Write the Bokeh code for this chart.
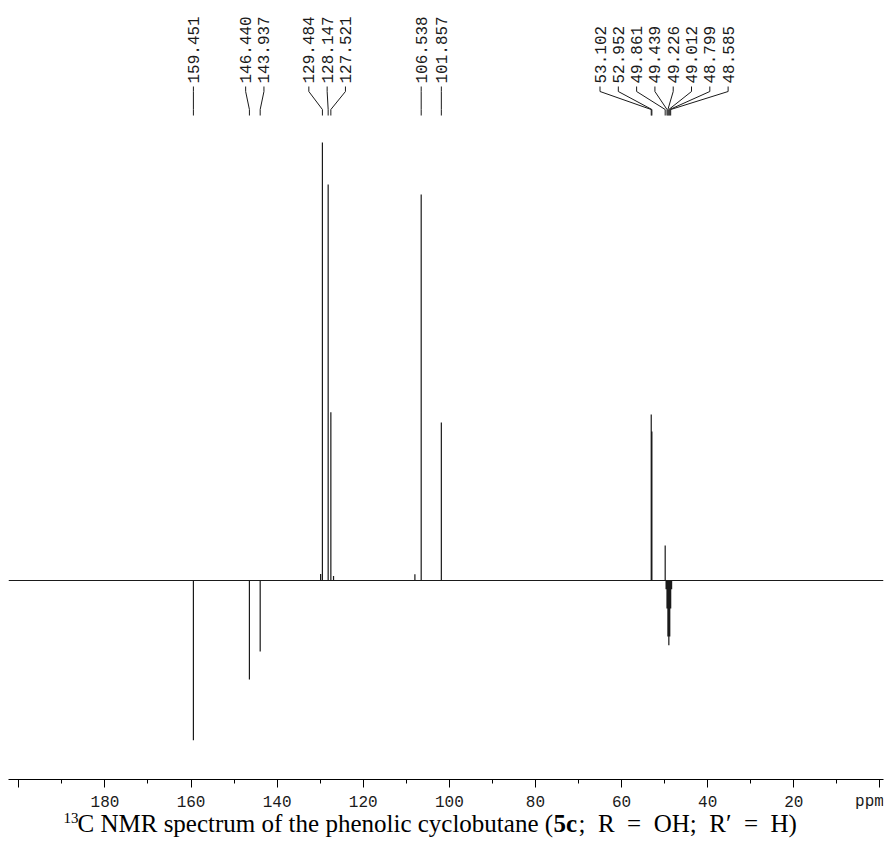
import math
from bokeh.plotting import figure
from bokeh.layouts import column
from bokeh.models import Range1d, FixedTicker
from bokeh.core.properties import value
from bokeh.embed import file_html
from bokeh.resources import INLINE

# ---------------- data ----------------
peak_ppm = [159.451, 146.440, 143.937, 129.484, 128.147, 127.521, 106.538, 101.857,
            53.102, 52.952, 49.861, 49.439, 49.226, 49.012, 48.799, 48.585]
peak_int = [-36.5, -22.6, -16.2, 100.0, 90.4, 38.4, 88.1, 36.1,
            37.9, 34.0, 8.0, -6.4, -12.8, -14.8, -12.8, -6.4]
minor_ppm = [129.9, 126.9, 108.0, 49.65, 48.37]
minor_int = [1.5, 1.0, 1.4, -2.0, -2.0]

major_ticks = [0, 20, 40, 60, 80, 100, 120, 140, 160, 180, 200]
minor_ticks = [10, 30, 50, 70, 90, 110, 130, 150, 170, 190]
label_ticks = [180, 160, 140, 120, 100, 80, 60, 40, 20]
tick_labels = ["180", "160", "140", "120", "100", "80", "60", "40", "20"]
unit_tick = 0
unit_label = "ppm"

title_sup = "13"
title_a = "C NMR spectrum of the phenolic cyclobutane ("
title_b = "5c"
title_c = ";\u2002R\u2002=\u2002OH;\u2002R\u2032\u2002=\u2002H)"

# ---------------- layout constants ----------------
W, H = 888, 841
frame_left, frame_right = 8, 5
frame_bottom_px = 779          # axis line position from the top
H1 = frame_bottom_px + 9       # spectrum figure (frame + tick marks)
H2 = H - H1                    # tick labels + caption strip
baseline_px = 580              # zero intensity line, from the top
px_per_unit = 4.38
ppm_left, ppm_right = 202.4, -0.85
px_per_ppm = (W - frame_left - frame_right) / (ppm_left - ppm_right)
xr = Range1d(ppm_left, ppm_right)

def ydata(px_from_top):
    return (baseline_px - px_from_top) / px_per_unit

p = figure(width=W, height=H1, output_backend="svg", toolbar_location=None,
           x_range=xr, y_range=Range1d(ydata(frame_bottom_px), ydata(0)),
           y_axis_location=None, min_border_left=frame_left, min_border_right=frame_right,
           min_border_top=0, min_border_bottom=H1 - frame_bottom_px)
p.outline_line_color = None
p.xgrid.visible = False
p.ygrid.visible = False

# ---------------- spectrum trace ----------------
allp = sorted(list(zip(peak_ppm, peak_int)) + list(zip(minor_ppm, minor_int)), key=lambda t: -t[0])
xs, ys = [ppm_left], [0.0]
for ppm, h in allp:
    xs += [ppm, ppm, ppm]
    ys += [0.0, h, 0.0]
xs.append(ppm_right)
ys.append(0.0)
p.line(xs, ys, line_color="#1a1a1a", line_width=1.2)

# ---------------- peak labels ----------------
sep = 18.3 / px_per_ppm
order = sorted(range(len(peak_ppm)), key=lambda i: -peak_ppm[i])
groups = [[i] for i in order]

def spread(g):
    c = sum(peak_ppm[i] for i in g) / len(g)
    n = len(g)
    return [c + ((n - 1) / 2 - k) * sep for k in range(n)]

changed = True
while changed:
    changed = False
    for gi in range(len(groups) - 1):
        a, b = spread(groups[gi]), spread(groups[gi + 1])
        if a[-1] - b[0] < sep - 1e-9:
            groups[gi] = groups[gi] + groups[gi + 1]
            del groups[gi + 1]
            changed = True
            break

lab_x, lab_txt, lx_all, ly_all = [], [], [], []
y0, y1, y2, y3 = ydata(86), ydata(91), ydata(109), ydata(115)
for g in groups:
    for i, lx in zip(g, spread(g)):
        px = peak_ppm[i]
        lab_x.append(lx)
        lab_txt.append(f"{px:.3f}")
        lx_all.append([lx, lx, px, px])
        ly_all.append([y0, y1, y2, y3])

p.multi_line(lx_all, ly_all, line_color="#1a1a1a", line_width=1)
p.text(x=lab_x, y=[ydata(83)] * len(lab_x), text=lab_txt, angle=math.pi / 2,
       text_align="left", text_baseline="middle", text_color="#1a1a1a",
       text_font=value("Liberation Mono"), text_font_size="16px")

# ---------------- axis (line + ticks) ----------------
ax = p.xaxis[0]
ax.ticker = FixedTicker(ticks=major_ticks, minor_ticks=minor_ticks)
ax.major_label_overrides = {t: "" for t in major_ticks}
ax.axis_line_color = "black"
ax.axis_line_width = 1
ax.major_tick_in = 0
ax.major_tick_out = 8
ax.minor_tick_in = 0
ax.minor_tick_out = 4
ax.major_tick_line_color = "black"
ax.minor_tick_line_color = "black"
ax.major_label_standoff = 0
ax.major_label_text_font_size = "1px"

# ---------------- tick labels + caption strip ----------------
c = figure(width=W, height=H2, output_backend="svg", toolbar_location=None,
           x_range=xr, y_range=Range1d(H, H1),
           x_axis_location=None, y_axis_location=None,
           min_border_left=frame_left, min_border_right=frame_right,
           min_border_top=0, min_border_bottom=0)
c.extra_x_ranges = {"px": Range1d(frame_left, W - frame_right)}
c.outline_line_color = None
c.xgrid.visible = False
c.ygrid.visible = False

mono = value("Liberation Mono")
c.text(x=label_ticks, y=[801] * len(label_ticks), text=tick_labels, text_font=mono,
       text_font_size="16px", text_align="center", text_baseline="middle", text_color="#1a1a1a")
c.text(x=[unit_tick], y=[801], text=[unit_label], x_offset=4, text_font=mono,
       text_font_size="16px", text_align="right", text_baseline="middle", text_color="#1a1a1a")

serif = value("Liberation Serif")
cap_mid = 823
c.text(x=[63], y=[cap_mid - 6], text=[title_sup], x_range_name="px", text_font=serif,
       text_font_size="15px", text_baseline="middle", text_color="black")
c.text(x=[77], y=[cap_mid], text=[title_a], x_range_name="px", text_font=serif,
       text_font_size="25px", text_baseline="middle", text_color="black")
c.text(x=[553], y=[cap_mid], text=[title_b], x_range_name="px", text_font=serif,
       text_font_size="25px", text_font_style="bold", text_baseline="middle", text_color="black")
c.text(x=[578], y=[cap_mid], text=[title_c], x_range_name="px", text_font=serif,
       text_font_size="25px", text_baseline="middle", text_color="black")

layout_all = column(p, c, spacing=0)
open("out.html", "w").write(file_html(layout_all, INLINE))
